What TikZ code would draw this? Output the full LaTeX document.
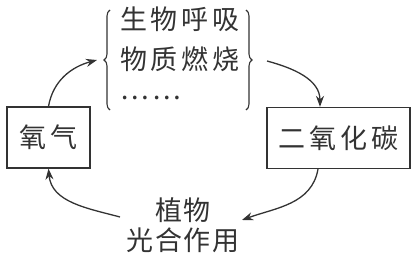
\documentclass[tikz,border=0pt]{standalone}
\usepackage{fontspec}
\newfontfamily\cjk{Noto Sans CJK SC}[LetterSpace=14]
\newfontfamily\cjknarrow{Noto Sans CJK SC}[LetterSpace=6]
\usetikzlibrary{arrows.meta,decorations.pathreplacing,positioning}

\begin{document}
\begin{tikzpicture}[x=1pt,y=1pt,
  box/.style={draw=black!80,line width=1.3pt,minimum height=61pt,inner sep=0pt},
  txt/.style={font=\cjk\fontsize{27}{30}\selectfont,text=black!80,inner sep=0pt},
  flow/.style={draw=black!80,line width=1.3pt,-{Stealth[length=11pt,width=8pt]}},
  brc/.style={draw=black!80,line width=1.1pt,decorate,decoration={brace,amplitude=6pt}}]
  \useasboundingbox (0,0) rectangle (412,255);
  \node[box,txt,minimum width=83pt] (o2) at (48.5,117.5) {氧气};
  \node[box,txt,minimum width=143pt] (co2) at (338.5,117) {二氧化碳};
  \node[txt,anchor=west] (l1) at (120,236) {生物呼吸};
  \node[txt,anchor=west] (l2) at (120,196) {物质燃烧};
  \node[txt,anchor=west] (l3) at (120,157) {……};
  \node[txt,font=\cjknarrow\fontsize{27}{30}\selectfont,align=center] (ps) at (183,30) {植物\\光合作用};
  \draw[brc] (110,145) -- (110,245);
  \draw[brc] (246,245) -- (246,145);
  \coordinate (inL) at (97,195);
  \coordinate (outR) at (267,194);
  \coordinate (inB) at (242,35);
  \coordinate (outB) at (120,38);
  \draw[flow] (o2.north) to[out=80,in=195] (inL);
  \draw[flow] (outR) to[out=-15,in=90] (co2.north west -| 320,0);
  \draw[flow] (co2.south west -| 318,0) to[out=-100,in=20] (inB);
  \draw[flow] (outB) to[out=165,in=-85] (o2.south);
\end{tikzpicture}
\end{document}
